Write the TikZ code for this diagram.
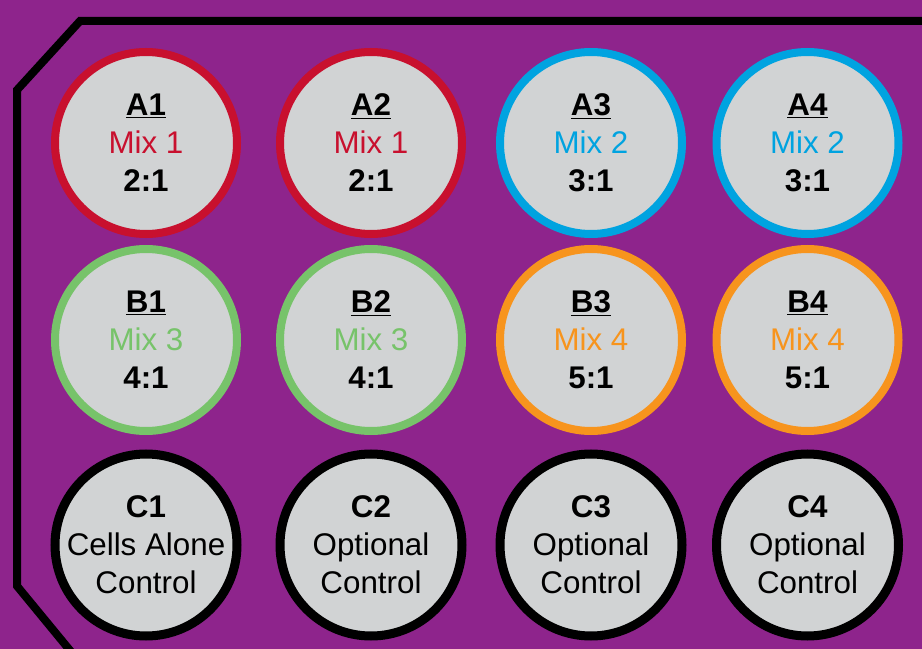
\documentclass[tikz,border=0pt]{standalone}
\usepackage{fontspec}
\setmainfont{Liberation Sans}
\definecolor{bgpurple}{HTML}{8E248C}
\definecolor{wellgray}{HTML}{D1D3D4}
\definecolor{mixred}{HTML}{C8102E}
\definecolor{mixblue}{HTML}{00A3E0}
\definecolor{mixgreen}{HTML}{77C36A}
\definecolor{mixorange}{HTML}{F7941D}
\begin{document}
\begin{tikzpicture}[x=0.75pt,y=-0.75pt,
  well/.style={circle,draw=#1,fill=wellgray,line width=6pt,minimum size=182*0.75pt,inner sep=0pt},
  welltext/.style={align=center,font=\fontsize{23.5}{28.5}\selectfont},
  plate/.style={draw=black,line width=6pt}]
\useasboundingbox (0,0) rectangle (922,649);
\fill[bgpurple] (0,0) rectangle (922,649);
\begin{scope}
\clip (0,0) rectangle (922,649);
\coordinate (p1) at (940,21);
\coordinate (p2) at (80,21);
\coordinate (p3) at (17,90);
\coordinate (p4) at (17,586);
\coordinate (p5) at (82,665);
\draw[plate,line join=miter] (p1) -- (p2) -- (p3) -- (p4) -- (p5);
\end{scope}
% row A
\node[well=mixred] (A1) at (146,143) {};
\node[well=mixred] (A2) at (371,143) {};
\node[well=mixblue] (A3) at (591,143) {};
\node[well=mixblue] (A4) at (807.5,143) {};
% row B
\node[well=mixgreen] (B1) at (146,340) {};
\node[well=mixgreen] (B2) at (371,340) {};
\node[well=mixorange] (B3) at (591,340) {};
\node[well=mixorange] (B4) at (807.5,340) {};
% row C
\node[well=black,line width=6.75pt] (C1) at (146,545) {};
\node[well=black,line width=6.75pt] (C2) at (371,545) {};
\node[well=black,line width=6.75pt] (C3) at (591,545) {};
\node[well=black,line width=6.75pt] (C4) at (807.5,545) {};
% texts
\node[welltext] (tA1) at (A1) {\textbf{\underline{A1}}\\\textcolor{mixred}{Mix 1}\\\textbf{2:1}};
\node[welltext] (tA2) at (A2) {\textbf{\underline{A2}}\\\textcolor{mixred}{Mix 1}\\\textbf{2:1}};
\node[welltext] (tA3) at (A3) {\textbf{\underline{A3}}\\\textcolor{mixblue}{Mix 2}\\\textbf{3:1}};
\node[welltext] (tA4) at (A4) {\textbf{\underline{A4}}\\\textcolor{mixblue}{Mix 2}\\\textbf{3:1}};
\node[welltext] (tB1) at (B1) {\textbf{\underline{B1}}\\\textcolor{mixgreen}{Mix 3}\\\textbf{4:1}};
\node[welltext] (tB2) at (B2) {\textbf{\underline{B2}}\\\textcolor{mixgreen}{Mix 3}\\\textbf{4:1}};
\node[welltext] (tB3) at (B3) {\textbf{\underline{B3}}\\\textcolor{mixorange}{Mix 4}\\\textbf{5:1}};
\node[welltext] (tB4) at (B4) {\textbf{\underline{B4}}\\\textcolor{mixorange}{Mix 4}\\\textbf{5:1}};
\node[welltext] (tC1) at (C1) {\textbf{C1}\\Cells Alone\\Control};
\node[welltext] (tC2) at (C2) {\textbf{C2}\\Optional\\Control};
\node[welltext] (tC3) at (C3) {\textbf{C3}\\Optional\\Control};
\node[welltext] (tC4) at (C4) {\textbf{C4}\\Optional\\Control};
\end{tikzpicture}
\end{document}
